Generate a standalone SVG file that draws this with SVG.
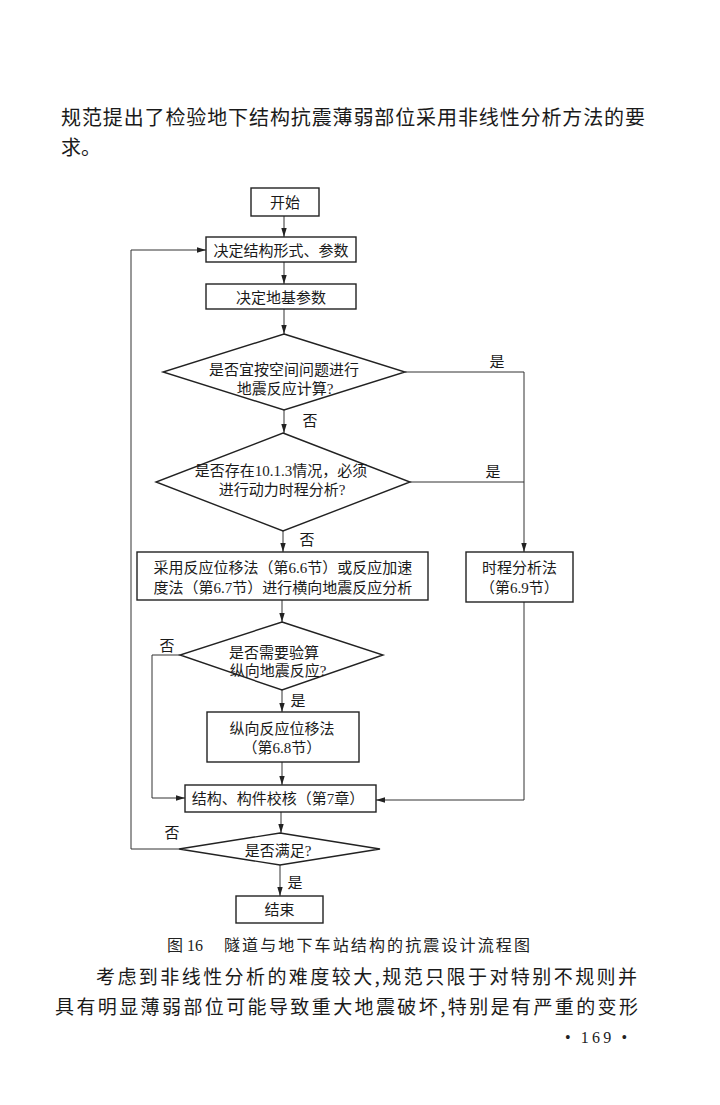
<svg xmlns="http://www.w3.org/2000/svg" width="720" height="1105" viewBox="0 0 720 1105">
<style>
.bg{fill:#ffffff}
.box{fill:#ffffff;stroke:#222;stroke-width:1.4}
.ln{fill:none;stroke:#333;stroke-width:1}
.t{font-family:"Liberation Serif","Noto Sans CJK SC",serif;font-size:15px;fill:#1a1a1a;text-anchor:middle}
.lb{font-family:"Liberation Serif","Noto Sans CJK SC",serif;font-size:15px;fill:#1a1a1a;text-anchor:middle}
.body{font-family:"Noto Sans CJK SC",sans-serif;fill:#1a1a1a}
.cap{font-family:"Liberation Serif","Noto Sans CJK SC",serif;font-size:16px;fill:#222}
</style>
<defs>
<marker id="ah" viewBox="0 0 10 6" refX="10" refY="3" markerWidth="9" markerHeight="5.4" markerUnits="userSpaceOnUse" orient="auto">
<path d="M0,0 L10,3 L0,6 Z" fill="#222"/>
</marker>
</defs>
<rect class="bg" x="0" y="0" width="720" height="1105"/>

<g id="page-text">
<text class="body" x="61" y="125" font-size="20" textLength="584" lengthAdjust="spacing">规范提出了检验地下结构抗震薄弱部位采用非线性分析方法的要</text>
<text class="body" x="61" y="155" font-size="20">求。</text>
<text class="cap" x="167" y="951">图 16</text>
<text class="cap" x="224" y="951" textLength="306" lengthAdjust="spacing">隧道与地下车站结构的抗震设计流程图</text>
<text class="body" x="96" y="984" font-size="19" textLength="541" lengthAdjust="spacing">考虑到非线性分析的难度较大,规范只限于对特别不规则并</text>
<text class="body" x="55" y="1014" font-size="19" textLength="583" lengthAdjust="spacing">具有明显薄弱部位可能导致重大地震破坏,特别是有严重的变形</text>
<text class="cap" x="565" y="1043" font-size="15" textLength="62" lengthAdjust="spacing">• 169 •</text>
</g>

<g id="connectors">
<line class="ln" x1="284" y1="216" x2="284" y2="237" marker-end="url(#ah)"/>
<line class="ln" x1="284" y1="262" x2="284" y2="284" marker-end="url(#ah)"/>
<line class="ln" x1="284" y1="309" x2="284" y2="334" marker-end="url(#ah)"/>
<line class="ln" x1="284" y1="410" x2="284" y2="433" marker-end="url(#ah)"/>
<line class="ln" x1="283" y1="531" x2="283" y2="552" marker-end="url(#ah)"/>
<line class="ln" x1="282" y1="600" x2="282" y2="622" marker-end="url(#ah)"/>
<line class="ln" x1="282" y1="690" x2="282" y2="712" marker-end="url(#ah)"/>
<line class="ln" x1="282" y1="762" x2="282" y2="785" marker-end="url(#ah)"/>
<line class="ln" x1="281" y1="812" x2="281" y2="833" marker-end="url(#ah)"/>
<line class="ln" x1="280" y1="865" x2="280" y2="896" marker-end="url(#ah)"/>
<polyline class="ln" points="405,372 524,372 524,552" marker-end="url(#ah)"/>
<line class="ln" x1="410" y1="482" x2="524" y2="482"/>
<polyline class="ln" points="524,602 524,800 376,800" marker-end="url(#ah)"/>
<polyline class="ln" points="180,655 152,655 152,798 185,798" marker-end="url(#ah)"/>
<polyline class="ln" points="179,849 131,849 131,250 206,250" marker-end="url(#ah)"/>
<text class="lb" x="497" y="367">是</text>
<text class="lb" x="310" y="426">否</text>
<text class="lb" x="493" y="477">是</text>
<text class="lb" x="307" y="545">否</text>
<text class="lb" x="167" y="651">否</text>
<text class="lb" x="298" y="706">是</text>
<text class="lb" x="172" y="838">否</text>
<text class="lb" x="295" y="888">是</text>
</g>

<g id="n-start">
<rect class="box" x="251" y="188" width="68" height="28"/>
<text class="t" x="285" y="207.5">开始</text>
</g>
<g id="n-form">
<rect class="box" x="206" y="237" width="150" height="25"/>
<text class="t" x="281" y="255.5">决定结构形式、参数</text>
</g>
<g id="n-ground">
<rect class="box" x="206" y="284" width="150" height="25"/>
<text class="t" x="281" y="302.5">决定地基参数</text>
</g>
<g id="d-space">
<polygon class="box" points="284,334 405,372 284,410 163,372"/>
<text class="t" x="284" y="374.5">是否宜按空间问题进行</text>
<text class="t" x="285" y="393.5">地震反应计算?</text>
</g>
<g id="d-dynamic">
<polygon class="box" points="283,433 410,482 283,531 156,482"/>
<text class="t" x="281" y="475.5">是否存在10.1.3情况，必须</text>
<text class="t" x="282" y="495">进行动力时程分析?</text>
</g>
<g id="n-response">
<rect class="box" x="137" y="552" width="291" height="48"/>
<text class="t" x="283" y="572.5">采用反应位移法（第6.6节）或反应加速</text>
<text class="t" x="283" y="592.5">度法（第6.7节）进行横向地震反应分析</text>
</g>
<g id="n-timehistory">
<rect class="box" x="466" y="552" width="107" height="50"/>
<text class="t" x="519.5" y="572.5">时程分析法</text>
<text class="t" x="519.5" y="592.5">（第6.9节）</text>
</g>
<g id="d-long">
<polygon class="box" points="282,622 383,655 282,690 180,655"/>
<text class="t" x="274" y="657.5">是否需要验算</text>
<text class="t" x="278" y="675.5">纵向地震反应?</text>
</g>
<g id="n-long">
<rect class="box" x="207" y="712" width="152" height="50"/>
<text class="t" x="282" y="733.5">纵向反应位移法</text>
<text class="t" x="282" y="752.5">（第6.8节）</text>
</g>
<g id="n-check">
<rect class="box" x="185" y="785" width="191" height="27"/>
<text class="t" x="278" y="804">结构、构件校核（第7章）</text>
</g>
<g id="d-ok">
<polygon class="box" points="280,833 380,849 280,865 179,849"/>
<text class="t" x="278" y="855.5">是否满足?</text>
</g>
<g id="n-end">
<rect class="box" x="236" y="896" width="87" height="27"/>
<text class="t" x="279.5" y="915">结束</text>
</g>
</svg>
